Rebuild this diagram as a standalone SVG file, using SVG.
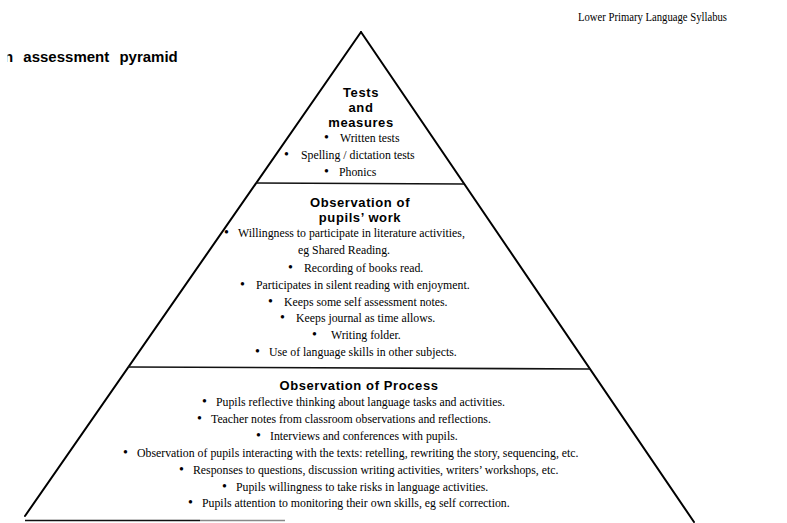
<svg xmlns="http://www.w3.org/2000/svg" width="787" height="523" viewBox="0 0 787 523">
  <style>
    .edge { stroke: #000; stroke-width: 2; fill: none; stroke-linecap: round; }
    .div { stroke: #111; stroke-width: 1.6; fill: none; }
    .hd { font-family: "Liberation Sans", Arial, sans-serif; font-weight: bold; font-size: 13px; letter-spacing: 0.6px; fill: #000; text-anchor: middle; }
    .it { font-family: "Liberation Serif", "Times New Roman", serif; font-size: 11.8px; fill: #000; }
    .b { font-size: 14px; }
  </style>
  <defs>
    <clipPath id="titleClip"><rect x="7.5" y="40" width="200" height="40"/></clipPath>
  </defs>
  <rect width="787" height="523" fill="#fff"/>

  <text x="578" y="21" class="it" font-size="11.5" textLength="149" lengthAdjust="spacingAndGlyphs">Lower Primary Language Syllabus</text>
  <text x="4" y="62" clip-path="url(#titleClip)" font-family="Liberation Sans, Arial, sans-serif" font-weight="bold" font-size="15" word-spacing="6">n assessment pyramid</text>

  <g id="connectors">
    <line class="edge" x1="361" y1="32" x2="25" y2="516"/>
    <line class="edge" x1="361" y1="32" x2="694" y2="522"/>
    <line class="div" x1="256" y1="183" x2="464" y2="184"/>
    <line class="div" x1="128" y1="367" x2="590" y2="369"/>
    <line class="div" x1="25" y1="520.5" x2="200" y2="520.5"/>
    <line x1="200" y1="520.5" x2="285" y2="520.5" stroke="#888" stroke-width="1.4"/>
  </g>

  <g id="tests">
    <text class="hd" x="361" y="97">Tests</text>
    <text class="hd" x="361" y="112">and</text>
    <text class="hd" x="361" y="127">measures</text>
    <text class="it"><tspan class="b" x="324" y="142">•</tspan><tspan x="340" y="142">Written tests</tspan></text>
    <text class="it"><tspan class="b" x="284" y="159">•</tspan><tspan x="301" y="159">Spelling / dictation tests</tspan></text>
    <text class="it"><tspan class="b" x="324" y="176">•</tspan><tspan x="339" y="176">Phonics</tspan></text>
  </g>

  <g id="pupils-work">
    <text class="hd" x="360" y="207">Observation of</text>
    <text class="hd" x="360" y="222">pupils’ work</text>
    <text class="it"><tspan class="b" x="224" y="237">•</tspan><tspan x="238" y="237">Willingness to participate in literature activities,</tspan></text>
    <text class="it" x="298" y="254">eg Shared Reading.</text>
    <text class="it"><tspan class="b" x="288" y="272">•</tspan><tspan x="304" y="272">Recording of books read.</tspan></text>
    <text class="it"><tspan class="b" x="240" y="289">•</tspan><tspan x="256" y="289">Participates in silent reading with enjoyment.</tspan></text>
    <text class="it"><tspan class="b" x="268" y="306">•</tspan><tspan x="284" y="306">Keeps some self assessment notes.</tspan></text>
    <text class="it"><tspan class="b" x="280" y="322">•</tspan><tspan x="296" y="322">Keeps journal as time allows.</tspan></text>
    <text class="it"><tspan class="b" x="312" y="339">•</tspan><tspan x="331" y="339">Writing folder.</tspan></text>
    <text class="it"><tspan class="b" x="255" y="356">•</tspan><tspan x="269" y="356">Use of language skills in other subjects.</tspan></text>
  </g>

  <g id="process">
    <text class="hd" x="359" y="390">Observation of Process</text>
    <text class="it"><tspan class="b" x="202" y="406">•</tspan><tspan x="216" y="406">Pupils reflective thinking about language tasks and activities.</tspan></text>
    <text class="it"><tspan class="b" x="197" y="423">•</tspan><tspan x="211" y="423">Teacher notes from classroom observations and reflections.</tspan></text>
    <text class="it"><tspan class="b" x="256" y="440">•</tspan><tspan x="270" y="440">Interviews and conferences with pupils.</tspan></text>
    <text class="it"><tspan class="b" x="123" y="457">•</tspan><tspan x="137" y="457">Observation of pupils interacting with the texts: retelling, rewriting the story, sequencing, etc.</tspan></text>
    <text class="it"><tspan class="b" x="179" y="474">•</tspan><tspan x="193" y="474">Responses to questions, discussion writing activities, writers’ workshops, etc.</tspan></text>
    <text class="it"><tspan class="b" x="222" y="491">•</tspan><tspan x="236" y="491">Pupils willingness to take risks in language activities.</tspan></text>
    <text class="it"><tspan class="b" x="188" y="507">•</tspan><tspan x="202" y="507">Pupils attention to monitoring their own skills, eg self correction.</tspan></text>
  </g>
</svg>
